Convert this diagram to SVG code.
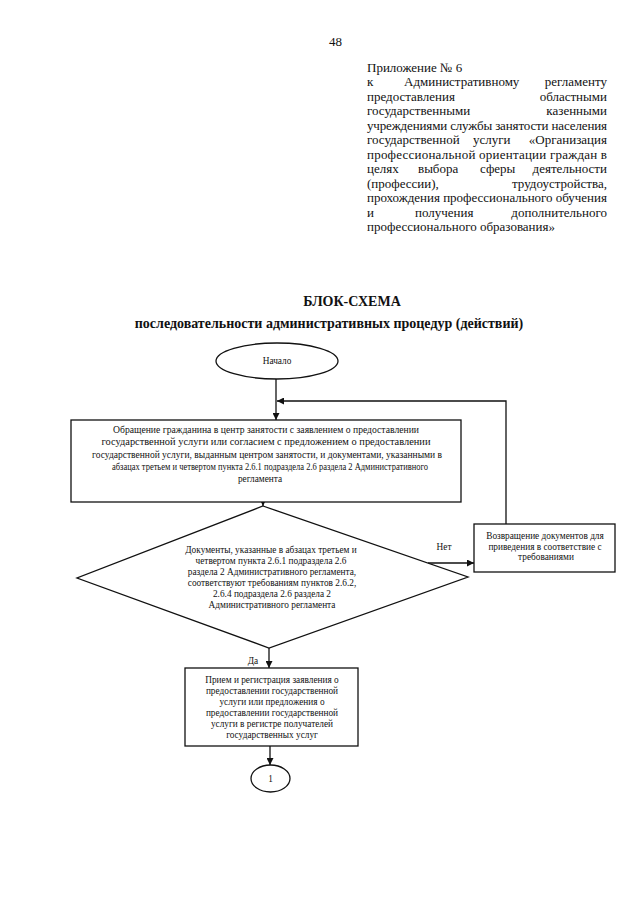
<svg xmlns="http://www.w3.org/2000/svg" width="640" height="905" viewBox="0 0 640 905">
<style>
text{font-family:"Liberation Serif","Times New Roman",serif;fill:#111}
.hdr{font-size:13px}
.ttl{font-size:14px;font-weight:bold;text-anchor:middle}
.sm{font-size:9.3px;text-anchor:middle}
.shape{fill:#fff;stroke:#111;stroke-width:1.3}
.conn{fill:none;stroke:#111;stroke-width:1.3}
</style>
<defs>
<marker id="arr" viewBox="0 0 10 10" refX="10" refY="5" markerWidth="7" markerHeight="7" markerUnits="userSpaceOnUse" orient="auto">
<path d="M0,0 L10,5 L0,10 z" fill="#111"/>
</marker>
</defs>
<rect width="640" height="905" fill="#fff"/>
<g id="header">
<text class="hdr" x="329" y="46" font-size="14">48</text>
<text class="hdr" x="367" y="71.5">Приложение № 6</text>
<text class="hdr" x="367" y="86">к</text>
<text class="hdr" x="404" y="86">Административному</text>
<text class="hdr" x="607" y="86" text-anchor="end">регламенту</text>
<text class="hdr" x="367" y="100.5">предоставления</text>
<text class="hdr" x="607" y="100.5" text-anchor="end">областными</text>
<text class="hdr" x="367" y="115">государственными</text>
<text class="hdr" x="607" y="115" text-anchor="end">казенными</text>
<text class="hdr" x="367" y="129.5" textLength="240" lengthAdjust="spacing">учреждениями службы занятости населения</text>
<text class="hdr" x="367" y="144">государственной</text>
<text class="hdr" x="473" y="144">услуги</text>
<text class="hdr" x="607" y="144" text-anchor="end">«Организация</text>
<text class="hdr" x="367" y="158.5" textLength="240" lengthAdjust="spacing">профессиональной ориентации граждан в</text>
<text class="hdr" x="367" y="173">целях</text>
<text class="hdr" x="418" y="173">выбора</text>
<text class="hdr" x="480" y="173">сферы</text>
<text class="hdr" x="607" y="173" text-anchor="end">деятельности</text>
<text class="hdr" x="367" y="187.5">(профессии),</text>
<text class="hdr" x="607" y="187.5" text-anchor="end">трудоустройства,</text>
<text class="hdr" x="367" y="202" textLength="240" lengthAdjust="spacing">прохождения профессионального обучения</text>
<text class="hdr" x="367" y="216.5">и</text>
<text class="hdr" x="415" y="216.5">получения</text>
<text class="hdr" x="607" y="216.5" text-anchor="end">дополнительного</text>
<text class="hdr" x="367" y="231">профессионального образования»</text>
</g>
<g id="title">
<text class="ttl" x="352" y="306">БЛОК-СХЕМА</text>
<text class="ttl" x="329" y="328">последовательности административных процедур (действий)</text>
</g>
<g id="connectors">
<line class="conn" x1="276" y1="379" x2="276" y2="420" marker-end="url(#arr)"/>
<polyline class="conn" points="506,524 506,401 277,401" marker-end="url(#arr)"/>
<line class="conn" x1="263" y1="502" x2="263" y2="506" marker-end="url(#arr)"/>
<line class="conn" x1="428" y1="563" x2="474" y2="563" marker-end="url(#arr)"/>
<line class="conn" x1="269" y1="648" x2="269" y2="668" marker-end="url(#arr)"/>
<line class="conn" x1="270" y1="746" x2="270" y2="765" marker-end="url(#arr)"/>
<text class="sm" x="444" y="550">Нет</text>
<text class="sm" x="253" y="664">Да</text>
</g>
<g id="start">
<ellipse class="shape" cx="277" cy="361" rx="61" ry="18"/>
<text class="sm" x="277" y="364">Начало</text>
</g>
<g id="appeal">
<rect class="shape" x="71" y="420" width="390" height="82"/>
<text class="sm" x="266" y="433" textLength="306" lengthAdjust="spacingAndGlyphs">Обращение гражданина  в центр занятости с заявлением о предоставлении</text>
<text class="sm" x="266" y="445" textLength="329" lengthAdjust="spacingAndGlyphs">государственной услуги или согласием с предложением о предоставлении</text>
<text class="sm" x="267" y="458" textLength="350" lengthAdjust="spacingAndGlyphs">государственной услуги, выданным центром занятости, и документами, указанными в</text>
<text class="sm" x="270" y="470" textLength="316" lengthAdjust="spacingAndGlyphs">абзацах третьем и четвертом пункта 2.6.1 подраздела 2.6 раздела 2 Административного</text>
<text class="sm" x="260" y="482">регламента</text>
</g>
<g id="check">
<polygon class="shape" points="263,506 468,577 269,648 77,578"/>
<text class="sm" x="271" y="553">Документы, указанные в абзацах третьем и</text>
<text class="sm" x="271" y="564">четвертом пункта 2.6.1 подраздела 2.6</text>
<text class="sm" x="272" y="575">раздела 2 Административного регламента,</text>
<text class="sm" x="272" y="586">соответствуют требованиям пунктов 2.6.2,</text>
<text class="sm" x="272" y="597">2.6.4 подраздела 2.6 раздела 2</text>
<text class="sm" x="272" y="608">Административного регламента</text>
</g>
<g id="return">
<rect class="shape" x="474" y="524" width="141" height="48"/>
<text class="sm" x="545" y="539">Возвращение документов для</text>
<text class="sm" x="545" y="550">приведения в соответствие с</text>
<text class="sm" x="546" y="560">требованиями</text>
</g>
<g id="register">
<rect class="shape" x="185" y="668" width="173" height="78"/>
<text class="sm" x="272" y="683">Прием и регистрация заявления о</text>
<text class="sm" x="272" y="694">предоставлении государственной</text>
<text class="sm" x="272" y="705">услуги или предложения о</text>
<text class="sm" x="272" y="716">предоставлении государственной</text>
<text class="sm" x="272" y="727">услуги в регистре получателей</text>
<text class="sm" x="272" y="738">государственных услуг</text>
</g>
<g id="connector1">
<ellipse class="shape" cx="270.5" cy="778.5" rx="19.5" ry="13.5"/>
<text class="sm" x="270.5" y="782">1</text>
</g>
</svg>
